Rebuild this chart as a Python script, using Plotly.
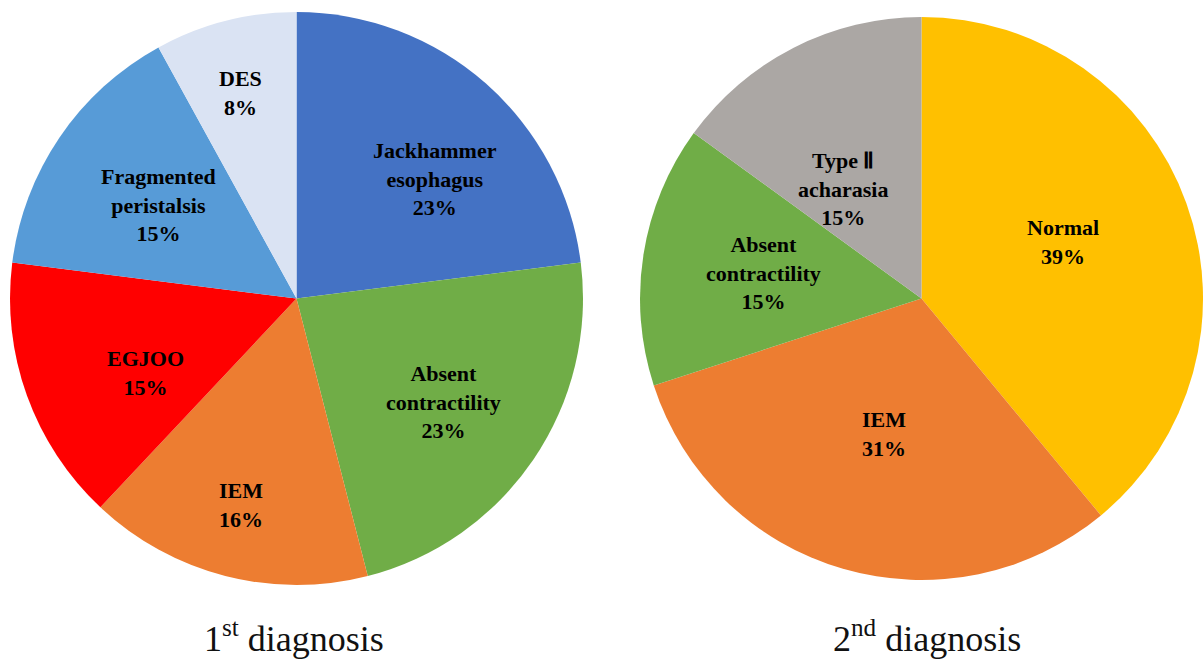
import plotly.graph_objects as go

W, H = 1203, 661

# ---- data ----
first_labels = ["Jackhammer<br>esophagus", "Absent<br>contractility", "IEM", "EGJOO",
                "Fragmented<br>peristalsis", "DES"]
first_values = [23, 23, 16, 15, 15, 8]
first_colors = ["#4472C4", "#70AD47", "#ED7D31", "#FF0000", "#579BD7", "#DAE3F3"]

second_labels = ["Normal", "IEM", "Absent<br>contractility", "Type \u2161<br>acharasia"]
second_values = [39, 31, 15, 15]
second_colors = ["#FFC000", "#ED7D31", "#70AD47", "#ABA7A4"]

titles = ["1<sup>st</sup> diagnosis", "2<sup>nd</sup> diagnosis"]

# label centre positions (pixels)
first_label_pos = [(435, 179), (443, 402), (241, 505), (145, 373), (158, 205), (240, 93)]
second_label_pos = [(1063, 242), (884, 434), (763, 273), (843, 189)]
title_x = [294, 927]

SERIF = "Times New Roman, Liberation Serif, Noto Serif, serif"


def px(x):
    return x / W


def py(y):
    return 1 - y / H


fig = go.Figure()
fig.add_trace(go.Pie(
    labels=[l.replace("<br>", " ") for l in first_labels], values=first_values,
    marker=dict(colors=first_colors, line=dict(width=0)),
    sort=False, direction="clockwise", rotation=0,
    textinfo="none", hoverinfo="label+percent",
    domain=dict(x=[px(10), px(583)], y=[py(585), py(12)]),
    showlegend=False,
))
fig.add_trace(go.Pie(
    labels=[l.replace("<br>", " ") for l in second_labels], values=second_values,
    marker=dict(colors=second_colors, line=dict(width=0)),
    sort=False, direction="clockwise", rotation=0,
    textinfo="none", hoverinfo="label+percent",
    domain=dict(x=[px(640), 1.0], y=[py(585), py(12)]),
    showlegend=False,
))

annotations = []
for labels, values, positions in [(first_labels, first_values, first_label_pos),
                                  (second_labels, second_values, second_label_pos)]:
    for lab, val, (x, y) in zip(labels, values, positions):
        annotations.append(dict(
            x=px(x), y=py(y), xref="paper", yref="paper",
            text=f"<b>{lab}<br>{val}%</b>", showarrow=False,
            xanchor="center", yanchor="middle", align="center",
            font=dict(family=SERIF, size=22, color="#000000"),
        ))
for t, x in zip(titles, title_x):
    annotations.append(dict(
        x=px(x), y=0, xref="paper", yref="paper", text=t, showarrow=False,
        xanchor="center", yanchor="bottom",
        font=dict(family=SERIF, size=36, color="#111111"),
    ))

fig.update_layout(
    width=W, height=H, margin=dict(l=0, r=0, t=0, b=0),
    paper_bgcolor="white", plot_bgcolor="white",
    annotations=annotations,
)

fig.write_html("out.html")
